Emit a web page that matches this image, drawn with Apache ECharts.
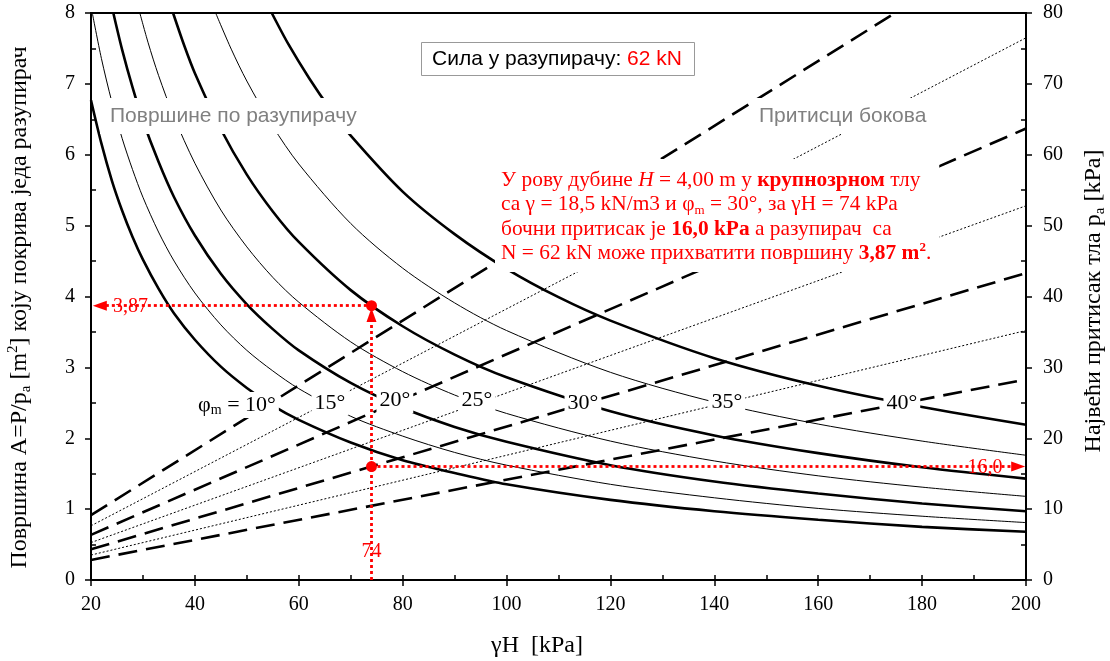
<!DOCTYPE html>
<html>
<head>
<meta charset="utf-8">
<script src="https://cdn.jsdelivr.net/npm/echarts@6/dist/echarts.min.js"></script>
<style>html,body{margin:0;padding:0;background:#fff}#c{width:1110px;height:661px}</style>
</head>
<body>
<div id="c"></div>
<script>
// ---- DATA ----
// Area covered by one strut A = P/pa [m2] vs γH [kPa], one curve per φm
const area10 = [[20,6.77],[22,6.16],[24,5.64],[26,5.21],[28,4.84],[30,4.52],[33,4.11],[36,3.76],[40,3.39],[45,3.01],[50,2.71],[55,2.46],[60,2.26],[70,1.94],[80,1.69],[90,1.51],[100,1.35],[120,1.13],[140,0.97],[160,0.85],[180,0.75],[200,0.68]];
const area15 = [[20.25,8],[22,7.36],[24,6.75],[26,6.23],[28,5.79],[30,5.40],[33,4.91],[36,4.50],[40,4.05],[45,3.60],[50,3.24],[55,2.95],[60,2.70],[70,2.31],[80,2.03],[90,1.80],[100,1.62],[120,1.35],[140,1.16],[160,1.01],[180,0.90],[200,0.81]];
const area20 = [[24.3,8],[26,7.48],[28,6.95],[30,6.48],[33,5.90],[36,5.40],[40,4.86],[45,4.32],[50,3.89],[55,3.54],[60,3.24],[70,2.78],[80,2.43],[90,2.16],[100,1.95],[120,1.62],[140,1.39],[160,1.22],[180,1.08],[200,0.97]];
const area25 = [[29.4,8],[31,7.58],[33,7.12],[36,6.53],[40,5.88],[45,5.22],[50,4.70],[55,4.27],[60,3.92],[70,3.36],[80,2.94],[90,2.61],[100,2.35],[120,1.96],[140,1.68],[160,1.47],[180,1.31],[200,1.18]];
const area30 = [[35.8,8],[38,7.53],[40,7.15],[45,6.36],[50,5.72],[55,5.20],[60,4.77],[70,4.09],[80,3.58],[90,3.18],[100,2.86],[120,2.38],[140,2.04],[160,1.79],[180,1.59],[200,1.43]];
const area35 = [[44,8],[47,7.49],[50,7.04],[55,6.40],[60,5.87],[70,5.03],[80,4.40],[90,3.91],[100,3.52],[120,2.93],[140,2.51],[160,2.20],[180,1.96],[200,1.76]];
const area40 = [[54.8,8],[58,7.56],[62,7.08],[66,6.65],[70,6.27],[80,5.48],[90,4.88],[100,4.39],[110,3.99],[120,3.66],[140,3.13],[160,2.74],[180,2.44],[200,2.19]];

// Lateral earth pressure pa [kPa] vs γH (right axis)
const press10 = [[20,9.15],[174.8,80]];
const press15 = [[20,7.65],[200,76.5]];
const press20 = [[20,6.37],[200,63.7]];
const press25 = [[20,5.28],[200,52.8]];
const press30 = [[20,4.33],[200,43.3]];
const press35 = [[20,3.52],[200,35.2]];
const press40 = [[20,2.83],[200,28.3]];

const curveLabels = ['φm = 10°','15°','20°','25°','30°','35°','40°'];
const curveLabelPos = [[48.1,2.47],[66.0,2.50],[78.5,2.54],[94.3,2.53],[114.7,2.50],[142.4,2.51],[176.1,2.50]];

// Worked example: γH = 74 kPa, φm = 30°
const exGammaH = 74;
const exArea = 3.87;
const exPressure = 16.0;
const exValueLabels = [[27.6,3.85,'3,87'],[192.1,1.58,'16,0'],[74,0.40,'74']];

// ---- CHART ----
const SERIF = 'Liberation Serif';
const SANS = 'Liberation Sans';
const red = '#ff0000';
const areaCurves = [area10, area15, area20, area25, area30, area35, area40];
const pressLines = [press10, press15, press20, press25, press30, press35, press40];

const series = [];
areaCurves.forEach((d, i) => {
  series.push({
    type: 'line', data: d, xAxisIndex: 0, yAxisIndex: 0, symbol: 'none', smooth: 0.3,
    silent: true, z: 2,
    lineStyle: { color: '#000', width: i % 2 === 0 ? 2.6 : 1 }
  });
});
pressLines.forEach((d, i) => {
  series.push({
    type: 'line', data: d, xAxisIndex: 0, yAxisIndex: 1, symbol: 'none',
    silent: true, z: 2,
    lineStyle: { color: '#000', width: i % 2 === 0 ? 2.6 : 1, type: i % 2 === 0 ? [19, 9] : [2, 2] }
  });
});

const redLine = { color: red, width: 2.8, type: [3, 3] };
series.push({
  type: 'scatter', xAxisIndex: 0, yAxisIndex: 0, symbolSize: 11, silent: true, z: 5,
  itemStyle: { color: red, opacity: 1 },
  data: [[exGammaH, exArea], [exGammaH, exPressure / 10]],
  markLine: {
    silent: true, animation: false, label: { show: false }, symbolSize: [10, 14],
    lineStyle: redLine,
    data: [
      [{ coord: [21.7, exArea], symbol: 'triangle' }, { coord: [exGammaH, exArea], symbol: 'none' }],
      [{ coord: [exGammaH, 0], symbol: 'none' }, { coord: [exGammaH, 3.74], symbol: 'triangle' }],
      [{ coord: [exGammaH, exPressure / 10], symbol: 'none' }, { coord: [198.5, exPressure / 10], symbol: 'triangle' }]
    ]
  }
});

const axisLineStyle = { color: '#000', width: 2 };
const tickStyle = { color: '#000', width: 1.5 };
const labelStyle = { fontFamily: SERIF, fontSize: 20, color: '#000' };
function nameStyle(pad) {
  return {
    fontFamily: SERIF, fontSize: 24, color: '#000', lineHeight: 28, padding: pad,
    rich: {
      s: { fontFamily: SERIF, fontSize: 15, color: '#000', lineHeight: 15, verticalAlign: 'bottom' },
      p: { fontFamily: SERIF, fontSize: 15, color: '#000', lineHeight: 15, verticalAlign: 'top' }
    }
  };
}

const option = {
  animation: false,
  backgroundColor: '#fff',
  grid: {
    left: 91, right: 84, top: 13, bottom: 81, show: true,
    borderColor: '#000', borderWidth: 2, containLabel: false, outerBoundsMode: 'none'
  },
  title: [
    {
      text: '{k|Сила у разупирачу: }{r|62 kN}', left: 421, top: 42, padding: [6, 13, 6, 11],
      backgroundColor: '#fff', borderColor: '#999', borderWidth: 1,
      textStyle: {
        fontWeight: 'normal', fontFamily: SANS, fontSize: 21, lineHeight: 22,
        rich: {
          k: { fontFamily: SANS, fontSize: 21, color: '#000', fontWeight: 'normal' },
          r: { fontFamily: SANS, fontSize: 21, color: red, fontWeight: 'normal' }
        }
      }
    },
    {
      text: 'Површине по разупирачу', left: 100, top: 98, padding: [7, 10],
      backgroundColor: '#fff',
      textStyle: { fontFamily: SANS, fontSize: 21, color: '#808080', fontWeight: 'normal', lineHeight: 22 }
    },
    {
      text: 'Притисци бокова', left: 749, top: 98, padding: [7, 10],
      backgroundColor: '#fff',
      textStyle: { fontFamily: SANS, fontSize: 21, color: '#808080', fontWeight: 'normal', lineHeight: 22 }
    },
    {
      text: [
        'У рову дубине {i|H} = 4,00 m у {b|крупнозрном} тлу',
        'са γ = 18,5 kN/m3 и φ{s|m} = 30°, за γH = 74 kPa',
        'бочни притисак је {b|16,0 kPa} а разупирач  са',
        'N = 62 kN може прихватити површину {b|3,87 m}{bp|2}.'
      ].join('\n'),
      left: 495, top: 159, padding: [9, 8, 6, 6], backgroundColor: '#fff',
      textStyle: {
        fontFamily: SERIF, fontSize: 21.4, color: red, fontWeight: 'normal', lineHeight: 24.5,
        rich: {
          i: { fontFamily: SERIF, fontSize: 21.4, color: red, fontStyle: 'italic', fontWeight: 'normal', lineHeight: 24.5 },
          b: { fontFamily: SERIF, fontSize: 21.4, color: red, fontWeight: 'bold', lineHeight: 24.5 },
          s: { fontFamily: SERIF, fontSize: 13, color: red, fontWeight: 'normal', lineHeight: 13, verticalAlign: 'bottom' },
          bp: { fontFamily: SERIF, fontSize: 13, color: red, fontWeight: 'bold', lineHeight: 13, verticalAlign: 'top' }
        }
      }
    }
  ],
  xAxis: [
    {
      type: 'value', min: 20, max: 200, interval: 20, position: 'bottom',
      axisLine: { lineStyle: axisLineStyle }, axisTick: { length: 6, lineStyle: tickStyle },
      axisLabel: Object.assign({ margin: 15 }, labelStyle), splitLine: { show: false },
      name: 'γH  [kPa]', nameLocation: 'middle', nameGap: 52, nameTextStyle: nameStyle([0, 43, 0, 0])
    },
    {
      type: 'value', min: 20, max: 200, interval: 10, position: 'bottom',
      axisLine: { show: false }, axisTick: { inside: true, length: 5, lineStyle: tickStyle },
      axisLabel: { show: false }, splitLine: { show: false }
    }
  ],
  yAxis: [
    {
      type: 'value', min: 0, max: 8, interval: 1, position: 'left',
      axisLine: { lineStyle: axisLineStyle }, axisTick: { length: 6, lineStyle: tickStyle },
      axisLabel: Object.assign({ margin: 16 }, labelStyle), splitLine: { show: false },
      name: 'Површина A=P/p{s|a} [m{p|2}] коју покрива једа разупирач',
      nameLocation: 'middle', nameGap: 57, nameTextStyle: nameStyle([0, 22, 0, 0])
    },
    {
      type: 'value', min: 0, max: 80, interval: 10, position: 'right',
      axisLine: { lineStyle: axisLineStyle }, axisTick: { length: 6, lineStyle: tickStyle },
      axisLabel: Object.assign({ margin: 17 }, labelStyle), splitLine: { show: false },
      name: 'Највећи притисак тла p{s|a} [kPa]',
      nameLocation: 'middle', nameGap: 54, nameTextStyle: nameStyle([0, 9, 0, 0])
    },
    {
      type: 'value', min: 0, max: 8, interval: 1, position: 'left',
      axisLine: { show: false }, axisTick: { show: false, inside: true },
      minorTick: { show: true, splitNumber: 2, length: 5, lineStyle: tickStyle },
      axisLabel: { show: false }, splitLine: { show: false }
    },
    {
      type: 'value', min: 0, max: 80, interval: 10, position: 'right',
      axisLine: { show: false }, axisTick: { show: false, inside: true },
      minorTick: { show: true, splitNumber: 2, length: 5, lineStyle: tickStyle },
      axisLabel: { show: false }, splitLine: { show: false }
    }
  ],
  series: series
};

const chart = echarts.init(document.getElementById('c'), null, { renderer: 'canvas' });
chart.setOption(option);

// Text annotations placed at data coordinates through the axes
const finder = { xAxisIndex: 0, yAxisIndex: 0 };
const graphics = [];
curveLabelPos.forEach((p, i) => {
  const px = chart.convertToPixel(finder, p);
  const name = curveLabels[i];
  const txt = name.indexOf('φm') === 0 ? 'φ{s|m}' + name.slice(2) : name;
  graphics.push({
    type: 'text', x: px[0], y: px[1], z: 50, silent: true,
    style: {
      text: txt, fill: '#000', fontFamily: SERIF, fontSize: 22, lineHeight: 24,
      align: 'center', verticalAlign: 'middle', textAlign: 'center', textVerticalAlign: 'middle',
      backgroundColor: '#fff', padding: [1, 3],
      rich: { s: { fill: '#000', fontFamily: SERIF, fontSize: 14, lineHeight: 14, verticalAlign: 'bottom' } }
    }
  });
});
exValueLabels.forEach(v => {
  const px = chart.convertToPixel(finder, [v[0], v[1]]);
  graphics.push({
    type: 'text', x: px[0], y: px[1], z: 60, silent: true,
    style: {
      text: v[2], fill: red, fontFamily: SERIF, fontSize: 20,
      align: 'center', verticalAlign: 'middle', textAlign: 'center', textVerticalAlign: 'middle'
    }
  });
});
chart.setOption({ graphic: graphics });
</script>
</body>
</html>
